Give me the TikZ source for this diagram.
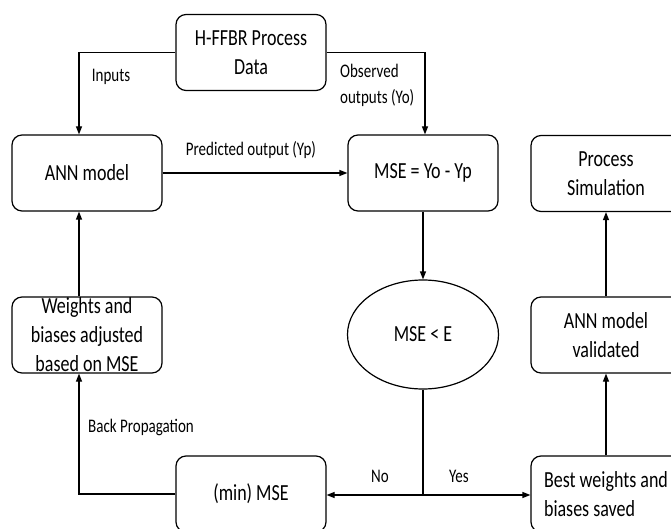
\documentclass[tikz,border=0pt]{standalone}
\usepackage{fontspec}
\setmainfont{Carlito}
\usetikzlibrary{arrows.meta,shapes.geometric}
\newcommand{\tx}[1]{\scalebox{1}[1.28]{#1}}
\tikzset{
  box/.style={draw, line width=1.2pt, rounded corners=10pt, minimum width=150pt, minimum height=76pt, inner sep=0pt, align=center, font=\fontsize{18}{29}\selectfont},
  oval/.style={draw, line width=1.2pt, ellipse, minimum width=151pt, minimum height=109pt, inner sep=0pt, font=\fontsize{18}{29}\selectfont},
  lbl/.style={inner sep=0pt, font=\fontsize{15}{26}\selectfont},
  conn/.style={line width=1.2pt},
  arr/.style={line width=1.2pt, -{Triangle[length=8pt,width=6pt]}},
}
\begin{document}
\begin{tikzpicture}[x=1pt,y=-1pt]
\useasboundingbox (0,0) rectangle (671,529);
\clip (0,0) rectangle (671,529);
\node[box] (hffbr) at (251,52.5) {\tx{H-FFBR Process}\\\tx{Data}};
\node[box] (ann) at (87,173) {\tx{ANN model}};
\node[box] (mse) at (423,173) {\tx{MSE = Yo - Yp}};
\node[box] (proc) at (606,173.5) {\tx{Process}\\\tx{Simulation}};
\node[oval] (dec) at (423,334.5) {\tx{MSE < E}};
\node[box, label={[inner sep=0pt, align=center, font=\fontsize{18}{29}\selectfont]center:{\tx{Weights and}\\\tx{biases adjusted}\\\tx{based on MSE}}}] (wts) at (87,335) {};
\node[box] (valid) at (606,335) {\tx{ANN model}\\\tx{validated}};
\node[box] (minmse) at (251,494) {\tx{(min) MSE}};
\node[box, align=left] (best) at (606,494) {\tx{Best weights and}\\\tx{biases saved}};

\coordinate (j) at (423,495);

\draw[arr] (hffbr.west) -| ([xshift=-8pt]ann.north);
\draw[arr] (hffbr.east) -| ([xshift=2pt]mse.north);
\draw[arr] (ann.east) -- (mse.west);
\draw[arr] (mse.south) -- (dec.north);
\draw[conn] (dec.south) -- (j);
\draw[arr] (j) -- (minmse.east |- j);
\draw[arr] (j) -- (best.west |- j);
\draw[arr] (minmse.west) -| ([xshift=-8pt]wts.south);
\draw[arr] ([xshift=-8pt]wts.north) -- ([xshift=-8pt]ann.south);
\draw[arr] (best.north) -- (valid.south);
\draw[arr] (valid.north) -- (proc.south);

\node[lbl] (linputs) at (111,77) {\tx{Inputs}};
\node[lbl, align=left, anchor=west] (lobs) at (340,85) {\tx{Observed}\\\tx{outputs (Yo)}};
\node[lbl] (lpred) at (251,150) {\tx{Predicted output (Yp)}};
\node[lbl, anchor=west] (lback) at (88,427) {\tx{Back Propagation}};
\node[lbl] (lno) at (380,476) {\tx{No}};
\node[lbl] (lyes) at (459,476) {\tx{Yes}};
\end{tikzpicture}
\end{document}
